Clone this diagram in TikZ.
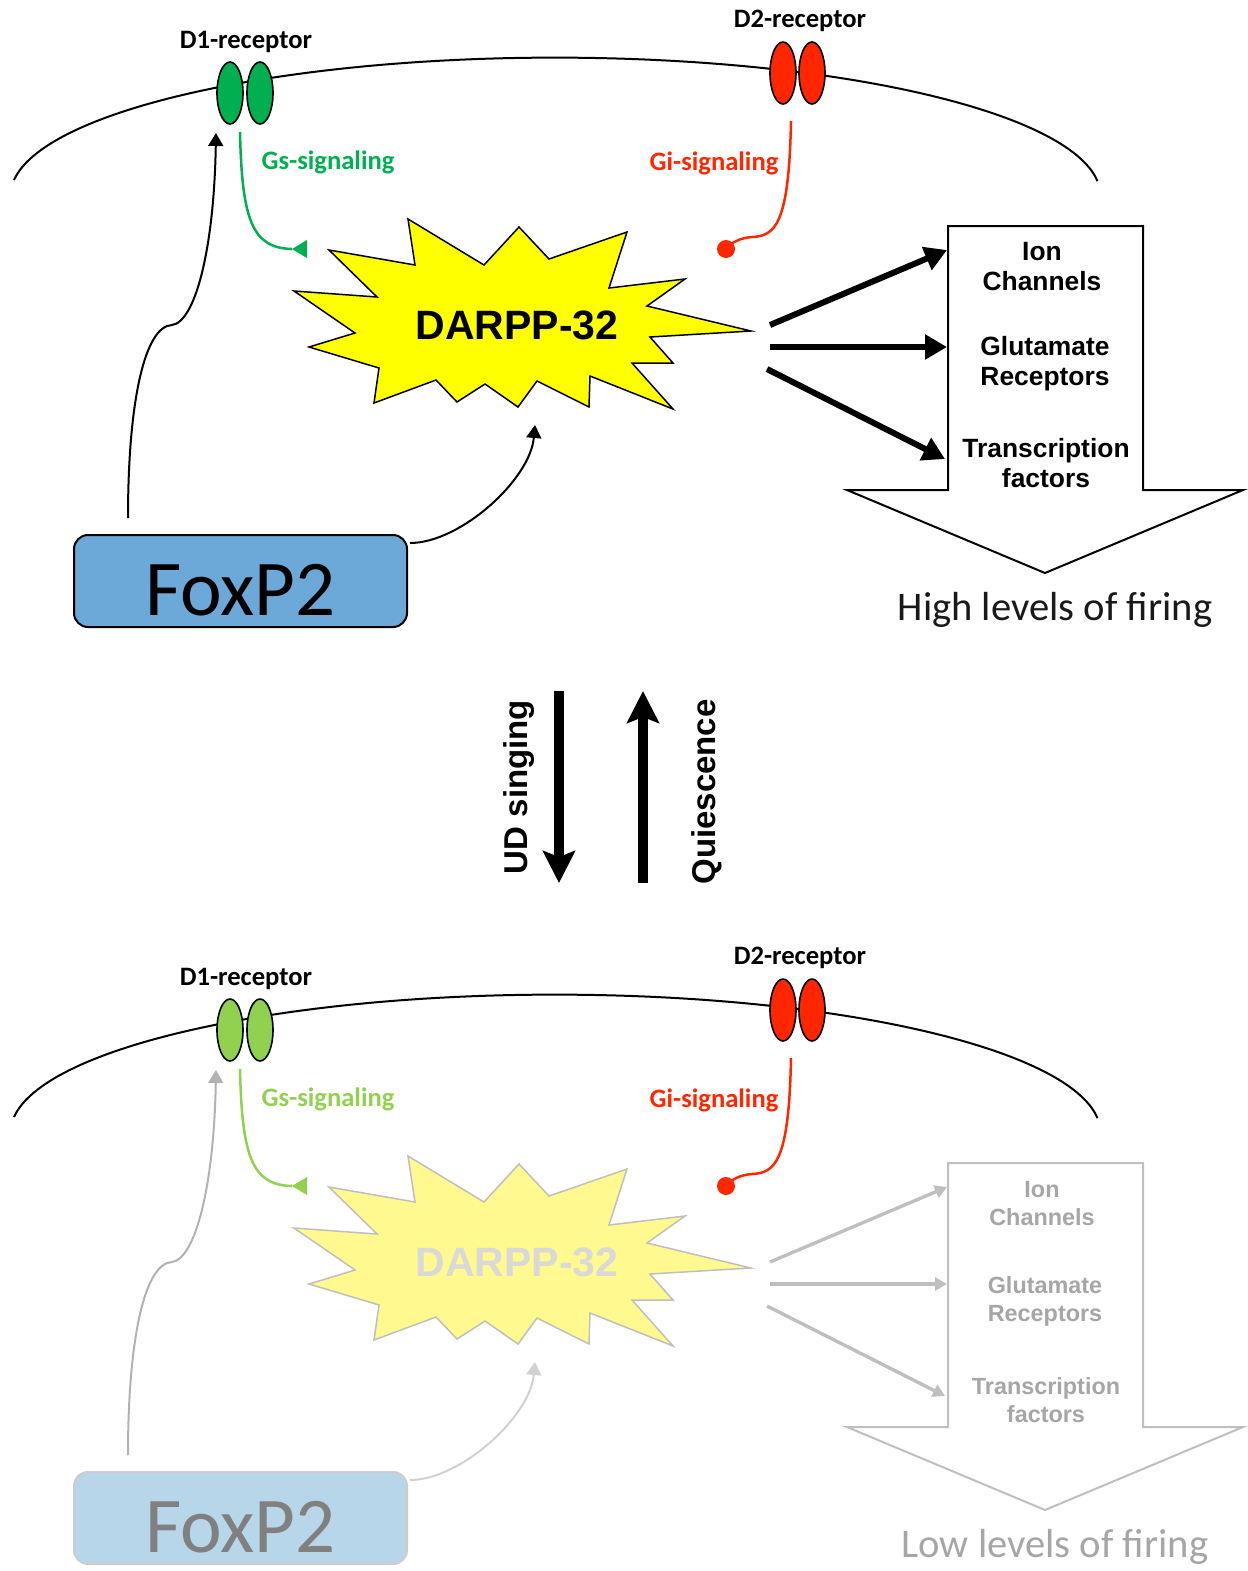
\documentclass[tikz,border=0pt]{standalone}
\usepackage{fontspec}
\setmainfont{Carlito}
\newfontfamily\arialfont{Liberation Sans}
\usetikzlibrary{arrows.meta,shapes.geometric}

\definecolor{dgreen}{HTML}{00B050}
\definecolor{lgreen}{HTML}{92D050}
\definecolor{sigred}{HTML}{FF2600}
\definecolor{burstyellow}{HTML}{FFFF00}
\definecolor{paleyellow}{HTML}{FFF98F}
\definecolor{foxblue}{HTML}{6CA8D8}
\definecolor{paleblue}{HTML}{B8D6EA}

\tikzset{
  recep/.style={ellipse, draw=black, line width=0.8pt, minimum width=13pt,
    minimum height=31pt, inner sep=0pt},
  rlabel/.style={font=\bfseries\fontsize{13.3}{16}\selectfont, inner sep=0pt},
  burst/.style={draw=burstline, fill=burstfill, line width=0.75pt, line join=miter},
  darpp/.style={font=\arialfont\bfseries\fontsize{20.5}{24}\selectfont,
    text=darpptext, inner sep=0pt},
  blockarrow/.style={draw=blockline, fill=white, line width=1pt, line join=miter},
  innertext/.style={font=\arialfont\bfseries\fontsize{\innersize}{\innerskip}\selectfont,
    text=innertextcol, align=center, inner sep=0pt},
  firetext/.style={font=\fontsize{20.3}{24}\selectfont, text=firetextcol, inner sep=0pt},
  gsline/.style={draw=gscol, line width=1.25pt},
  giline/.style={draw=sigred, line width=1.25pt},
  foxbox/.style={draw=foxline, fill=foxfill, text=foxtext, line width=1pt,
    rounded corners=7pt, minimum width=166.5pt, minimum height=46pt,
    font=\fontsize{39.5}{44}\selectfont, text height=35pt, inner sep=0pt},
  foxarrow/.style={draw=foxarrcol, line width=1pt,
    -{Triangle[length=6.5pt,width=7.5pt]}},
  bigarrow/.style={line width=5pt, -{Stealth[length=16pt,width=16pt,inset=3pt]}},
  midlabel/.style={font=\arialfont\bfseries\fontsize{16.5}{20}\selectfont,
    rotate=90, inner sep=0pt},
}

% One cell: membrane with D1/D2 receptors, DARPP-32, FoxP2 and effectors.
% #1: suffix for the names, #2: caption below the block arrow
\newcommand\firingpanel[2]{%
  \draw[line width=1pt] (14,180) arc[start angle=173.5, end angle=6,
    x radius=272.5pt, y radius=69pt];
  \node[recep, fill=d1fill] (d1a#1) at (230,93) {};
  \node[recep, fill=d1fill] (d1b#1) at (260,93) {};
  \node[recep, fill=sigred] (d2a#1) at (783,73) {};
  \node[recep, fill=sigred] (d2b#1) at (812,73) {};
  \node[rlabel] (d1lab#1) at (246,42) {D1-receptor};
  \node[rlabel] (d2lab#1) at (800,21) {D2-receptor};
  \node[rlabel, text=gscol] (gslab#1) at (328,162) {Gs-signaling};
  \node[rlabel, text=sigred] (gilab#1) at (714,163) {Gi-signaling};
  % DARPP-32 burst
  \draw[burst] (408,219) -- (415,265) -- (329,250) -- (377,297) -- (294,291)
    -- (355,333) -- (309,347) -- (379,368) -- (374,403) -- (436,380)
    -- (457,402) -- (485,384) -- (518,407) -- (537,381) -- (589,407)
    -- (590,376) -- (673,409) -- (632,363) -- (673,363) -- (650,337)
    -- (751,331) -- (647,306) -- (685,279) -- (609,288) -- (627,232)
    -- (549,259) -- (519,227) -- (484,265) -- cycle;
  \node[darpp] (darpp#1) at (517,325) {DARPP-32};
  % effector block arrow
  \draw[blockarrow] (948,226) -- (1143,226) -- (1143,490) -- (1243,490)
    -- (1045,573) -- (847,490) -- (948,490) -- cycle;
  \node[innertext] (ion#1) at (1042,267) {Ion\\Channels};
  \node[innertext] (glu#1) at (1045,364) {Glutamate\\Receptors};
  \node[innertext] (tf#1) at (1046,463) {Transcription\\factors};
  \node[firetext] (fire#1) at (1055,610) {#2};
  \coordinate (src1#1) at (770,325);
  \coordinate (src2#1) at (770,347);
  \coordinate (src3#1) at (767,369);
  \coordinate (eff1#1) at (947,250);
  \coordinate (eff2#1) at (947,347);
  \coordinate (eff3#1) at (945,459);
  \draw[effarrow] (src1#1) -- (eff1#1);
  \draw[effarrow] (src2#1) -- (eff2#1);
  \draw[effarrow] (src3#1) -- (eff3#1);
  % Gs and Gi signaling
  \coordinate (gsstart#1) at (240,132);
  \coordinate (gsend#1) at (292,249);
  \draw[gsline] (gsstart#1) .. controls (242,220) and (252,248) .. (gsend#1);
  \fill[gscol] (gsend#1) -- (307,240) -- (307,258) -- cycle;
  \coordinate (gistart#1) at (791,121);
  \coordinate (giend#1) at (726,249);
  \draw[giline] (gistart#1) .. controls (789,225) and (775,236) .. (752,237)
    .. controls (740,238) and (732,242) .. (giend#1);
  \fill[sigred] (giend#1) circle[radius=4.5pt];
  % FoxP2 and its targets
  \node[foxbox] (fox#1) at (240.5,581) {FoxP2};
  \coordinate (foxtop#1) at (128,518);
  \coordinate (d1tip#1) at (216,133);
  \draw[foxarrow] (foxtop#1) .. controls (128,400) and (145,326) .. (172,325)
    .. controls (195,322) and (214,250) .. (d1tip#1);
  \coordinate (foxside#1) at (410,543);
  \coordinate (darpptip#1) at (535,425);
  \draw[foxarrow, draw=foxarrcolb] (foxside#1) .. controls (460,543) and (530,480) .. (darpptip#1);
}

\begin{document}
\begin{tikzpicture}[x=0.5pt, y=-0.5pt]
  \useasboundingbox (0,0) rectangle (1248,1571);

  % active state
  \begin{scope}
    \colorlet{d1fill}{dgreen}
    \colorlet{gscol}{dgreen}
    \colorlet{burstfill}{burstyellow}
    \colorlet{burstline}{black}
    \colorlet{darpptext}{black}
    \colorlet{blockline}{black}
    \colorlet{innertextcol}{black}
    \colorlet{firetextcol}{black!90}
    \colorlet{foxfill}{foxblue}
    \colorlet{foxline}{black}
    \colorlet{foxtext}{black}
    \colorlet{foxarrcol}{black}
    \colorlet{foxarrcolb}{black}
    \def\innersize{13.2}\def\innerskip{15}
    \tikzset{effarrow/.style={draw=black, line width=3pt,
      -{Triangle[length=11pt,width=12pt]}}}
    \firingpanel{t}{High levels of firing}
  \end{scope}

  % switching between the two states
  \coordinate (udtop) at (559,691);
  \coordinate (udbot) at (559,883);
  \coordinate (qbot) at (643,883);
  \coordinate (qtop) at (643,691);
  \draw[bigarrow] (udtop) -- (udbot);
  \draw[bigarrow] (qbot) -- (qtop);
  \node[midlabel] (ud) at (519,787) {UD singing};
  \node[midlabel] (quiet) at (707,792) {Quiescence};

  % quiet state
  \begin{scope}[shift={(0,937)}]
    \colorlet{d1fill}{lgreen}
    \colorlet{gscol}{lgreen}
    \colorlet{burstfill}{paleyellow}
    \colorlet{burstline}{black!25}
    \colorlet{darpptext}{black!15}
    \colorlet{blockline}{black!25}
    \colorlet{innertextcol}{black!35}
    \colorlet{firetextcol}{black!35}
    \colorlet{foxfill}{paleblue}
    \colorlet{foxline}{black!20}
    \colorlet{foxtext}{black!50}
    \colorlet{foxarrcol}{black!30}
    \colorlet{foxarrcolb}{black!18}
    \def\innersize{11.7}\def\innerskip{14}
    \tikzset{effarrow/.style={draw=black!25, line width=1.7pt,
      -{Triangle[length=6pt,width=6.5pt]}}}
    \firingpanel{b}{Low levels of firing}
  \end{scope}
\end{tikzpicture}
\end{document}
